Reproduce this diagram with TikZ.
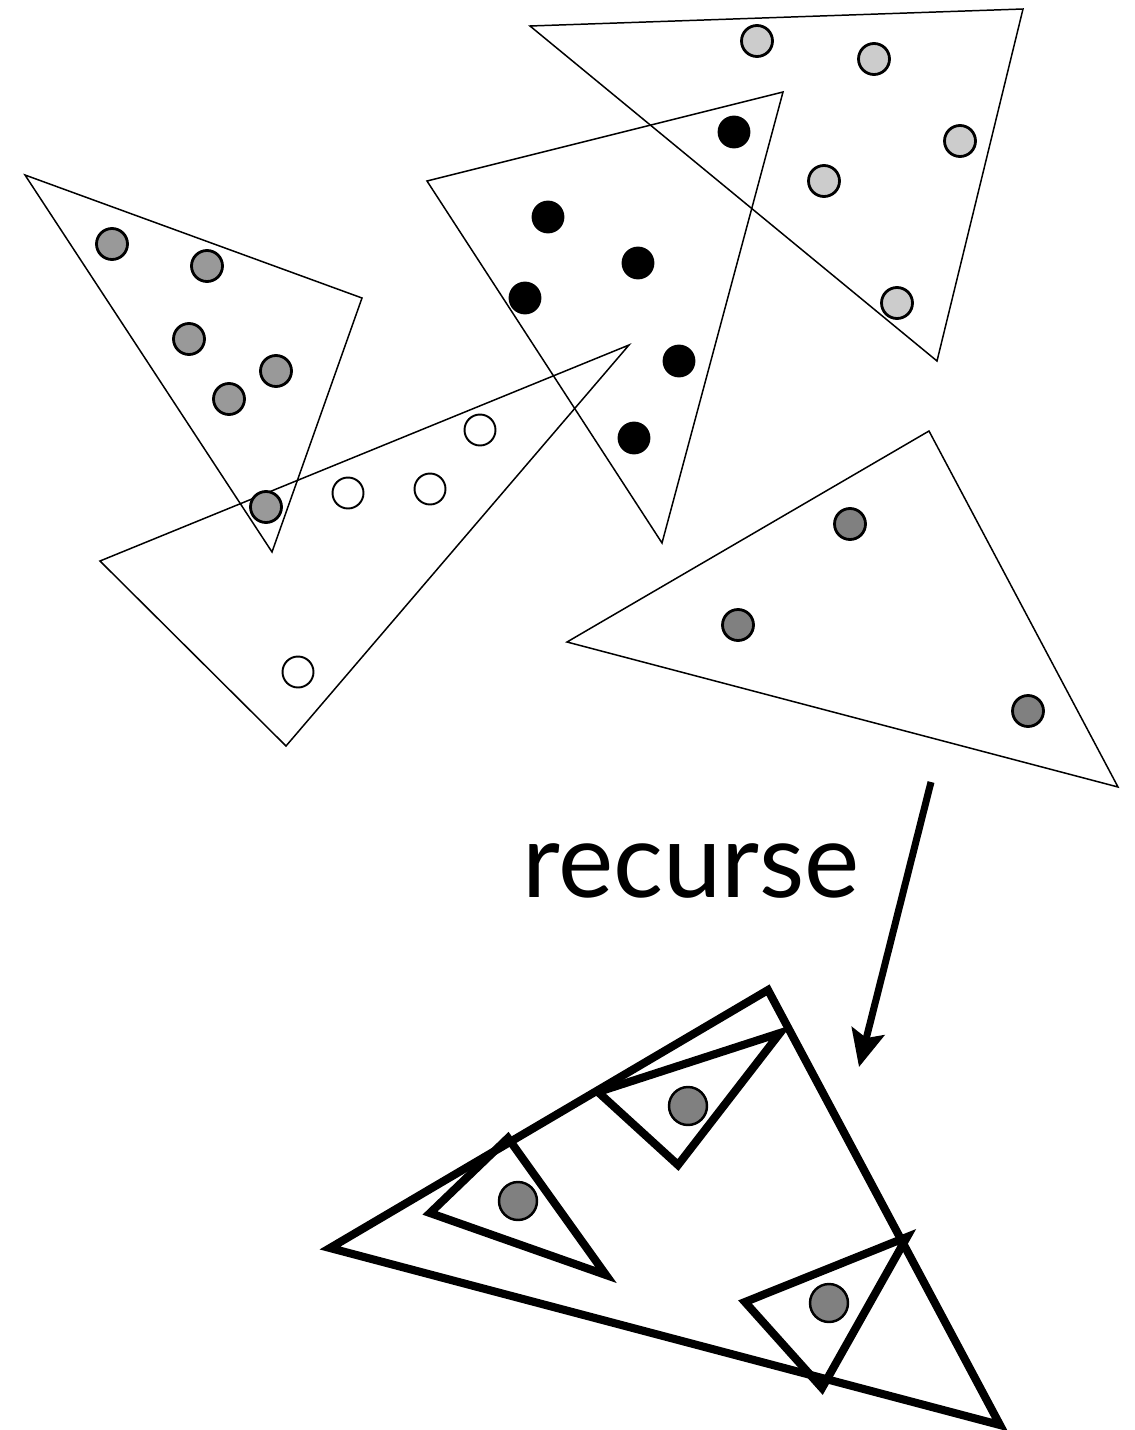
\documentclass[tikz,border=0pt]{standalone}
\usepackage{fontspec}
\setmainfont{Lato}
\usepackage{tikz}
\usetikzlibrary{arrows.meta,positioning}
\definecolor{dotgray}{RGB}{153,153,153}
\definecolor{dotlight}{RGB}{204,204,204}
\definecolor{dotdark}{RGB}{128,128,128}

\tikzset{
  thintri/.style={line width=0.85pt, line join=miter},
  thicktri/.style={line width=4.6pt, line join=miter},
  dotbase/.style={circle, inner sep=0pt, minimum size=0.62cm, draw, line width=1.6pt},
  graydot/.style={dotbase, fill=dotgray},
  lightdot/.style={dotbase, fill=dotlight},
  blackdot/.style={dotbase, fill=black, minimum size=0.6cm},
  opendot/.style={dotbase, fill=white, line width=1.1pt},
  darkdot/.style={dotbase, fill=dotdark},
  bigdot/.style={dotbase, fill=dotdark, minimum size=0.76cm, line width=1.4pt},
}

\begin{document}
\begin{tikzpicture}[x=0.02cm, y=-0.02cm]
    \useasboundingbox (0,0) rectangle (1134,1430);

    % Unsorted triangles
    \draw[thintri] (25,175) -- (362,298) -- (272,552) -- cycle;
    \draw[thintri] (427,181) -- (783,92) -- (662,543) -- cycle;
    \draw[thintri] (530,26) -- (1023,9) -- (937,361) -- cycle;
    \draw[thintri] (100,561) -- (629,345) -- (286,746) -- cycle;
    \draw[thintri] (567,642) -- (929,431) -- (1118,787) -- cycle;

    % Points inside them
    \foreach \p [count=\i] in {(112,244),(207,266),(189,339),(276,371),(229,399),(266,507)}
        \node[graydot] (g\i) at \p {};
    \foreach \p [count=\i] in {(548,217),(734,132),(638,263),(525,298),(679,361),(634,438)}
        \node[blackdot] (b\i) at \p {};
    \foreach \p [count=\i] in {(757,41),(874,59),(960,141),(824,181),(897,303)}
        \node[lightdot] (l\i) at \p {};
    \foreach \p [count=\i] in {(480,430),(348,493),(430,489),(298,672)}
        \node[opendot] (o\i) at \p {};
    \foreach \p [count=\i] in {(850,524),(738,625),(1028,711)}
        \node[darkdot] (d\i) at \p {};

    % Label and arrow
    \node[font=\fontsize{59.5}{62}\selectfont, anchor=base west, inner sep=0pt] (rec) at (522,897) {recurse};
    \coordinate (arrtop) at (931,782);
    \coordinate (arrbot) at (859,1067);
    \draw[line width=4pt, -{Stealth[length=21pt, width=19pt, inset=4pt]}] (arrtop) -- (arrbot);

    % Recursed triangle
    \draw[thicktri] (330,1248) -- (768,990) -- (1000,1425) -- cycle;
    \draw[thicktri] (430,1213) -- (508,1138) -- (606,1275) -- cycle;
    \draw[thicktri] (598,1092) -- (780,1033) -- (678,1165) -- cycle;
    \draw[thicktri] (745,1302) -- (907,1237) -- (822,1388) -- cycle;
    \node[bigdot] (r1) at (518,1201) {};
    \node[bigdot] (r2) at (688,1106) {};
    \node[bigdot] (r3) at (829,1303) {};
\end{tikzpicture}
\end{document}
